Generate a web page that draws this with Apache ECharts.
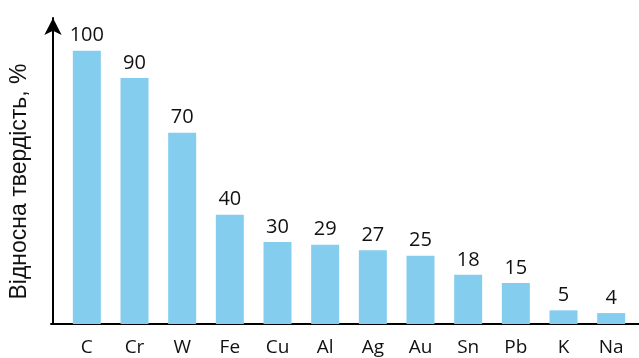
<!DOCTYPE html>
<html>
<head>
<meta charset="utf-8">
<script src="https://cdn.jsdelivr.net/npm/echarts@6/dist/echarts.min.js"></script>
<style>
  html, body { margin: 0; padding: 0; background: #fff; }
  #chart { width: 639px; height: 358px; }
</style>
</head>
<body>
<div id="chart"></div>
<script>
// Relative hardness of elements (diamond C = 100)
const elements = ['C', 'Cr', 'W', 'Fe', 'Cu', 'Al', 'Ag', 'Au', 'Sn', 'Pb', 'K', 'Na'];
const hardness = [100, 90, 70, 40, 30, 29, 27, 25, 18, 15, 5, 4];
const axisTitle = 'Відносна твердість, %';

const chart = echarts.init(document.getElementById('chart'), null, { renderer: 'canvas' });

chart.setOption({
  animation: false,
  backgroundColor: '#ffffff',
  grid: [
    { left: 61, right: 4, top: 18, bottom: 34 },
    { left: 51, right: 0, top: 18, bottom: 34 }
  ],
  xAxis: [
    {
      type: 'category',
      gridIndex: 0,
      data: elements,
      axisLine: { show: false },
      axisTick: { show: false },
      axisLabel: {
        color: '#111',
        fontFamily: 'Open Sans',
        fontSize: 19,
        margin: 14
      }
    },
    {
      // baseline running across the full plot width
      type: 'value',
      gridIndex: 1,
      min: 0,
      max: 1,
      axisLine: { show: true, lineStyle: { color: '#000', width: 2 } },
      axisTick: { show: false },
      axisLabel: { show: false },
      splitLine: { show: false }
    }
  ],
  yAxis: [
    {
      type: 'value',
      gridIndex: 0,
      min: 0,
      max: 112,
      offset: 10,
      name: axisTitle,
      nameLocation: 'middle',
      nameGap: 22,
      nameTextStyle: {
        color: '#111',
        fontFamily: 'Liberation Sans',
        fontSize: 23,
        padding: [0, 21, 0, 0]
      },
      axisLine: {
        show: true,
        lineStyle: { color: '#000', width: 2 },
        symbol: ['none', 'arrow'],
        symbolSize: [13, 17]
      },
      axisTick: { show: false },
      axisLabel: { show: false },
      splitLine: { show: false }
    },
    {
      type: 'value',
      gridIndex: 1,
      show: false
    }
  ],
  series: [
    {
      type: 'bar',
      xAxisIndex: 0,
      yAxisIndex: 0,
      data: hardness,
      barWidth: 28,
      itemStyle: { color: '#84CDEE' },
      label: {
        show: true,
        position: 'top',
        distance: 5,
        color: '#111',
        fontFamily: 'Open Sans',
        fontSize: 20
      }
    }
  ]
});
</script>
</body>
</html>
